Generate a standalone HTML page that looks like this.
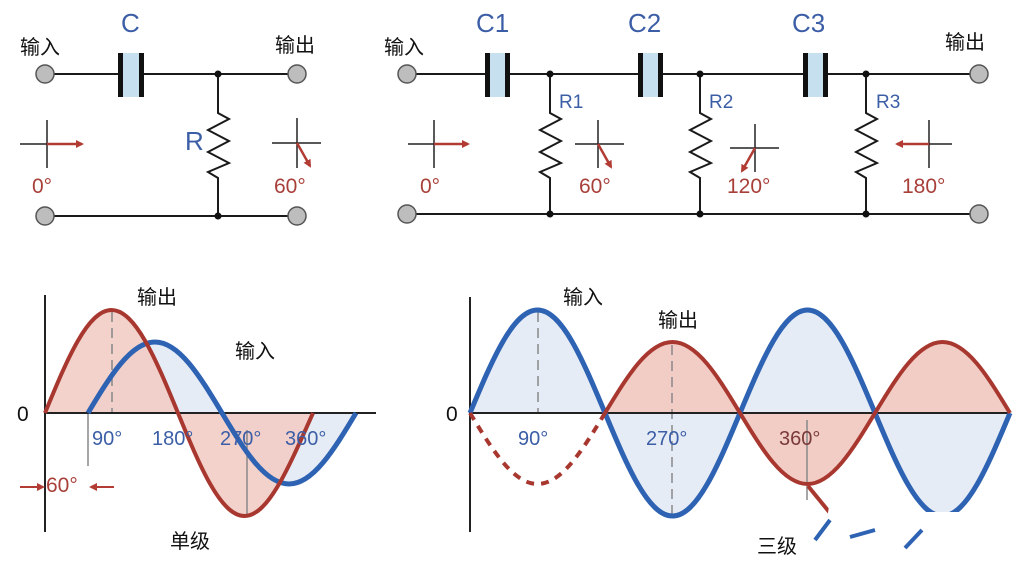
<!DOCTYPE html>
<html><head><meta charset="utf-8"><style>
html,body{margin:0;padding:0;background:#fff;}
svg{display:block;}
text{font-family:"Liberation Sans","Noto Sans CJK SC",sans-serif;}
</style></head><body>
<svg width="1016" height="564" viewBox="0 0 1016 564" xmlns="http://www.w3.org/2000/svg">
<defs>
<marker id="ar" markerWidth="8" markerHeight="8" refX="6" refY="4" orient="auto" markerUnits="userSpaceOnUse"><path d="M0,0 L8,4 L0,8 z" fill="#b23c34"/></marker>
</defs>
<g stroke="#1a1a1a" stroke-width="2" fill="none">
<!-- left circuit -->
<line x1="45" y1="74" x2="297" y2="74"/>
<line x1="45" y1="216" x2="297" y2="216"/>
<polyline points="218,74 218,113 229,119 208,130 229,141 208,152 229,163 208,172 218,178 218,216"/>
<!-- right circuit -->
<line x1="405" y1="74" x2="980" y2="74"/>
<line x1="405" y1="214" x2="980" y2="214"/>
<polyline points="550,74 550,113 561,119 540,130 561,141 540,152 561,163 540,172 550,178 550,214"/>
<polyline points="700,74 700,113 711,119 690,130 711,141 690,152 711,163 690,172 700,178 700,214"/>
<polyline points="866,74 866,113 877,119 856,130 877,141 856,152 877,163 856,172 866,178 866,214"/>
</g>
<!-- capacitors -->
<g>
<rect x="120" y="53" width="22" height="44" fill="#c6e0f0"/>
<rect x="118" y="53" width="5" height="44" fill="#111"/><rect x="139" y="53" width="5" height="44" fill="#111"/>
<rect x="487" y="53" width="21" height="44" fill="#c6e0f0"/>
<rect x="485" y="53" width="5" height="44" fill="#111"/><rect x="505" y="53" width="5" height="44" fill="#111"/>
<rect x="640" y="53" width="20" height="44" fill="#c6e0f0"/>
<rect x="638" y="53" width="5" height="44" fill="#111"/><rect x="658" y="53" width="5" height="44" fill="#111"/>
<rect x="805" y="53" width="21" height="44" fill="#c6e0f0"/>
<rect x="803" y="53" width="5" height="44" fill="#111"/><rect x="823" y="53" width="5" height="44" fill="#111"/>
</g>
<!-- junction dots -->
<g fill="#111">
<circle cx="218" cy="74" r="3.5"/><circle cx="218" cy="216" r="3.5"/>
<circle cx="550" cy="74" r="3.5"/><circle cx="550" cy="214" r="3.5"/>
<circle cx="700" cy="74" r="3.5"/><circle cx="700" cy="214" r="3.5"/>
<circle cx="866" cy="74" r="3.5"/><circle cx="866" cy="214" r="3.5"/>
</g>
<!-- terminals -->
<g fill="#bdbdbd" stroke="#555" stroke-width="1.5">
<circle cx="45" cy="74" r="9"/><circle cx="297" cy="74" r="9"/>
<circle cx="45" cy="216" r="9"/><circle cx="297" cy="216" r="9"/>
<circle cx="407" cy="74" r="9"/><circle cx="979" cy="74" r="9"/>
<circle cx="407" cy="214" r="9"/><circle cx="979" cy="214" r="9"/>
</g>
<!-- phasors -->
<g stroke="#222" stroke-width="1.5">
<line x1="20" y1="144" x2="75" y2="144"/><line x1="47" y1="120" x2="47" y2="168"/>
<line x1="272" y1="143" x2="321" y2="143"/><line x1="297" y1="118" x2="297" y2="168"/>
<line x1="408" y1="144" x2="462" y2="144"/><line x1="434" y1="120" x2="434" y2="168"/>
<line x1="575" y1="144" x2="624" y2="144"/><line x1="598" y1="120" x2="598" y2="168"/>
<line x1="730" y1="148" x2="779" y2="148"/><line x1="755" y1="124" x2="755" y2="172"/>
<line x1="905" y1="144" x2="952" y2="144"/><line x1="929" y1="120" x2="929" y2="168"/>
</g>
<g stroke="#b23c34" stroke-width="2.5" marker-end="url(#ar)">
<line x1="47" y1="144" x2="82" y2="144"/>
<line x1="297" y1="143" x2="310" y2="166"/>
<line x1="434" y1="144" x2="468" y2="144"/>
<line x1="598" y1="144" x2="611" y2="167"/>
<line x1="755" y1="148" x2="742" y2="171"/>
<line x1="929" y1="144" x2="897" y2="144"/>
</g>
<!-- circuit labels -->
<g font-size="26" fill="#3b5ea6">
<text x="121" y="32">C</text><text x="185" y="150">R</text>
<text x="476" y="32">C1</text><text x="628" y="32">C2</text><text x="792" y="32">C3</text>
</g>
<g font-size="19" fill="#3b5ea6">
<text x="559" y="108">R1</text><text x="709" y="108">R2</text><text x="876" y="108">R3</text>
</g>
<g font-size="21" fill="#a8403a">
<text x="32" y="193">0°</text><text x="274" y="193">60°</text>
<text x="420" y="193">0°</text><text x="579" y="193">60°</text><text x="727" y="193">120°</text><text x="902" y="193">180°</text>
</g>
<g font-size="20" fill="#111">
<text x="20" y="54">输入</text><text x="275" y="52">输出</text>
<text x="384" y="54">输入</text><text x="945" y="49">输出</text>
</g>

<!-- bottom left graph -->
<path d="M88,413 C110.4,375.7 131,342 155,342 C179,342 199.6,375.7 222,413 C244.4,450.3 265,484 289,484 C313,484 333.6,450.3 356,413 Z" fill="#e6ecf6"/>
<path d="M45,413 C67.2,358.9 87.7,310 111.5,310 C135.3,310 155.8,358.9 178,413 C200.2,467.1 220.7,516 244.5,516 C268.3,516 288.8,467.1 313,413 Z" fill="#f2cdc6" opacity="0.9"/>
<g stroke="#888" stroke-width="1.5">
<line x1="112" y1="312" x2="112" y2="413" stroke-dasharray="10,6"/>
<line x1="247" y1="430" x2="247" y2="515"/>
<line x1="88" y1="413" x2="88" y2="466"/>
</g>
<line x1="45" y1="295" x2="45" y2="532" stroke="#222" stroke-width="2"/>
<line x1="45" y1="413" x2="376" y2="413" stroke="#222" stroke-width="2"/>
<path d="M88,413 C110.4,375.7 131,342 155,342 C179,342 199.6,375.7 222,413 C244.4,450.3 265,484 289,484 C313,484 333.6,450.3 356,413" fill="none" stroke="#2e62b2" stroke-width="5"/>
<path d="M45,413 C67.2,358.9 87.7,310 111.5,310 C135.3,310 155.8,358.9 178,413 C200.2,467.1 220.7,516 244.5,516 C268.3,516 288.8,467.1 313,413" fill="none" stroke="#a8382f" stroke-width="4"/>
<g font-size="20" fill="#3b5ea6">
<text x="92" y="445">90°</text><text x="152" y="445">180°</text><text x="220" y="445">270°</text><text x="285" y="445">360°</text>
</g>
<text x="17" y="421" font-size="21" fill="#111">0</text>
<text x="46" y="492" font-size="21" fill="#a8403a">60°</text>
<g stroke="#b23c34" stroke-width="2" marker-end="url(#ar)">
<line x1="20" y1="487" x2="43" y2="487"/><line x1="114" y1="487" x2="91" y2="487"/>
</g>
<g font-size="20" fill="#111">
<text x="137" y="304">输出</text><text x="235" y="358">输入</text><text x="170" y="548">单级</text>
</g>

<!-- bottom right graph -->
<path d="M470,413 C492.6,358.9 513.3,310 537.5,310 C561.7,310 582.4,358.9 605,413 C627.6,467.1 648.3,516 672.5,516 C696.7,516 717.4,467.1 740,413 C762.6,358.9 783.3,310 807.5,310 C831.7,310 852.4,358.9 875,413 C897.6,467.1 918.3,516 942.5,516 C966.7,516 987.4,467.1 1010,413 Z" fill="#e6ecf6"/>
<path d="M605,413 C627.6,375.7 648.3,342 672.5,342 C696.7,342 717.4,375.7 740,413 C762.6,450.3 783.3,484 807.5,484 C831.7,484 852.4,450.3 875,413 C897.6,375.7 918.3,342 942.5,342 C966.7,342 987.4,375.7 1010,413 Z" fill="#f2cdc6"/>
<g stroke="#888" stroke-width="1.5">
<line x1="538" y1="312" x2="538" y2="413" stroke-dasharray="10,6"/>
<line x1="672" y1="345" x2="672" y2="516" stroke-dasharray="10,6"/>
<line x1="807" y1="420" x2="807" y2="500"/>
</g>
<line x1="470" y1="297" x2="470" y2="532" stroke="#222" stroke-width="2"/>
<line x1="470" y1="413" x2="1008" y2="413" stroke="#222" stroke-width="2"/>
<path d="M470,413 C492.6,358.9 513.3,310 537.5,310 C561.7,310 582.4,358.9 605,413 C627.6,467.1 648.3,516 672.5,516 C696.7,516 717.4,467.1 740,413 C762.6,358.9 783.3,310 807.5,310 C831.7,310 852.4,358.9 875,413 C897.6,467.1 918.3,516 942.5,516 C966.7,516 987.4,467.1 1010,413" fill="none" stroke="#2e62b2" stroke-width="5"/>
<path d="M605,413 C627.6,375.7 648.3,342 672.5,342 C696.7,342 717.4,375.7 740,413 C762.6,450.3 783.3,484 807.5,484 C831.7,484 852.4,450.3 875,413 C897.6,375.7 918.3,342 942.5,342 C966.7,342 987.4,375.7 1010,413" fill="none" stroke="#a8382f" stroke-width="4"/>
<path d="M470,413 C492.6,450.3 513.3,484 537.5,484 C561.7,484 582.4,450.3 605,413" fill="none" stroke="#a8382f" stroke-width="4" stroke-dasharray="8,7"/>
<line x1="808" y1="486" x2="830" y2="513" stroke="#a8382f" stroke-width="4"/>
<!-- erased region -->
<path d="M830,500 L915,500 L925,512 L960,512 L972,500 L1016,500 L1016,564 L820,564 Z" fill="#fff"/>
<path d="M830,520 L815,540 M850,537 L875,530 M922,530 L905,548" stroke="#2e62b2" stroke-width="4" fill="none"/>
<g font-size="20" fill="#3b5ea6">
<text x="518" y="445">90°</text><text x="646" y="445">270°</text>
</g>
<text x="779" y="445" font-size="20" fill="#7a3a3a">360°</text>
<text x="446" y="421" font-size="21" fill="#111">0</text>
<g font-size="20" fill="#111">
<text x="563" y="304">输入</text><text x="658" y="327">输出</text><text x="757" y="553">三级</text>
</g>
</svg>
</body></html>
